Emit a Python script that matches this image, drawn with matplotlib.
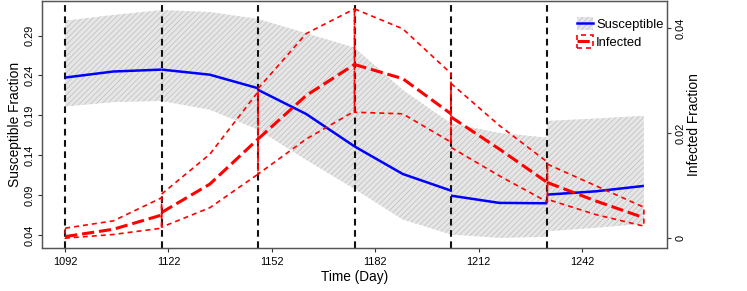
import matplotlib
matplotlib.use("Agg")
import matplotlib.pyplot as plt
from matplotlib.patches import Patch
from matplotlib.lines import Line2D
from matplotlib.legend_handler import HandlerTuple

plt.rcParams['font.family'] = ['Liberation Sans', 'DejaVu Sans']
plt.rcParams['hatch.linewidth'] = 0.5

# ---- data ----
change_days = [1092, 1120, 1148, 1176, 1204, 1232]
x_ticks = [1092, 1122, 1152, 1182, 1212, 1242]
s_ticks = [0.04, 0.09, 0.14, 0.19, 0.24, 0.29]
s_tick_labels = ["0.04", "0.09", "0.14", "0.19", "0.24", "0.29"]
i_ticks = [0.0, 0.02, 0.04]
i_tick_labels = ["0", "0.02", "0.04"]

window_days = [[1092, 1106, 1120], [1120, 1134, 1148], [1148, 1162, 1176],
               [1176, 1190, 1204], [1204, 1218, 1232], [1232, 1246, 1260]]
sus_mean = [[0.2374, 0.245, 0.2474], [0.2474, 0.241, 0.224], [0.222, 0.1916, 0.151],
            [0.151, 0.1164, 0.0955], [0.0892, 0.0801, 0.0796], [0.0905, 0.0946, 0.1014]]
sus_upper = [[0.3088, 0.316, 0.3222], [0.3222, 0.3197, 0.311], [0.311, 0.293, 0.275],
             [0.275, 0.222, 0.180], [0.180, 0.168, 0.162], [0.183, 0.186, 0.1894]]
sus_lower = [[0.201, 0.2066, 0.208], [0.208, 0.197, 0.172], [0.172, 0.134, 0.0975],
             [0.0975, 0.0592, 0.0404], [0.0404, 0.0362, 0.0375], [0.0445, 0.0488, 0.0538]]
inf_mean = [[0.0003, 0.0017, 0.0044], [0.0049, 0.0103, 0.0189], [0.0189, 0.0272, 0.0331],
            [0.0331, 0.0304, 0.0237], [0.0231, 0.017, 0.0106], [0.0106, 0.0071, 0.0039]]
inf_upper = [[0.0019, 0.0033, 0.0077], [0.0084, 0.016, 0.0279], [0.0285, 0.039, 0.0437],
             [0.0437, 0.0399, 0.0314], [0.0295, 0.0215, 0.0145], [0.0141, 0.010, 0.0059]]
inf_lower = [[0.0, 0.0007, 0.0019], [0.0021, 0.0058, 0.0122], [0.0122, 0.0189, 0.0242],
             [0.024, 0.0237, 0.0183], [0.0173, 0.0119, 0.0069], [0.0074, 0.0045, 0.0023]]

# ---- figure ----
W, H = 747, 291
fig = plt.figure(figsize=(W / 100, H / 100), dpi=100)
L, R, T, B = 42, 667, 1, 247.5
ax = fig.add_axes([L / W, 1 - B / H, (R - L) / W, (B - T) / H])
ax2 = ax.twinx()

band_face = '#e6e6e6'
band_hatch = '#bdbdbd'
for d, lo, up in zip(window_days, sus_lower, sus_upper):
    ax.fill_between(d, lo, up, facecolor=band_face, edgecolor=band_hatch,
                    hatch='//////', linewidth=0, zorder=1)

for cd in change_days:
    ax.axvline(cd, color='#111111', lw=1.5, dashes=(3.2, 2.2), zorder=2)

for d, m in zip(window_days, sus_mean):
    ax.plot(d, m, color='#0000ff', lw=1.8, solid_capstyle='butt', zorder=3)

for d, lo, up, m in zip(window_days, inf_lower, inf_upper, inf_mean):
    xs = list(d) + list(d[::-1]) + [d[0]]
    ys = list(up) + list(lo[::-1]) + [up[0]]
    ax2.plot(xs, ys, color='#ff0000', lw=1.2, dashes=(3.0, 2.4), zorder=3)
    ax2.plot(d, m, color='#ff0000', lw=2.2, dashes=(4.0, 1.6), zorder=4)

ax.set_xlim(1085.28, 1266.72)
ax.set_ylim(0.0241, 0.3335)
ax2.set_ylim(-0.00178, 0.0452)

ax.set_xticks(x_ticks)
ax.set_xticklabels([str(v) for v in x_ticks], fontsize=7.9)
ax.set_yticks(s_ticks)
ax.set_yticklabels(s_tick_labels, fontsize=7.9, rotation=90, va='center')
ax2.set_yticks(i_ticks)
ax2.set_yticklabels(i_tick_labels, fontsize=7.9, rotation=90, va='center')

ax.tick_params(axis='x', length=3, width=0.8, pad=3.5, color='#333333')
ax.tick_params(axis='y', length=3, width=0.8, pad=2.5, color='#333333')
ax2.tick_params(axis='y', length=3, width=0.8, pad=3, color='#333333')

for a in (ax, ax2):
    for s in a.spines.values():
        s.set_color('#555555')
        s.set_linewidth(0.9)

ax.set_xlabel('Time (Day)', fontsize=9.8, va='top')
ax.xaxis.set_label_coords(0.5, -(270 - B) / (B - T))
ax.set_ylabel('Susceptible Fraction', fontsize=9.9, va='center')
ax.yaxis.set_label_coords((15.5 - L) / (R - L), 0.5)
ax2.set_ylabel('Infected Fraction', fontsize=9.9, va='center', rotation=90)
ax2.yaxis.set_label_coords((694 - L) / (R - L), 0.5)

sus_handle = (Patch(facecolor=band_face, edgecolor=band_hatch, hatch='//////', lw=0),
              Line2D([], [], color='#0000ff', lw=1.8))
inf_handle = (Patch(facecolor='none', edgecolor='#ff0000', lw=1.2, linestyle=(0, (3.0, 2.4))),
              Line2D([], [], color='#ff0000', lw=2.2, dashes=(4.0, 1.6)))
leg = ax2.legend([sus_handle, inf_handle], ['Susceptible', 'Infected'],
                 handler_map={tuple: HandlerTuple(ndivide=1, pad=0)},
                 loc='upper left', bbox_to_anchor=((577 - L) / (R - L), (B - 17) / (B - T)),
                 frameon=False, fontsize=9.4, borderpad=0, borderaxespad=0,
                 handlelength=1.25, handleheight=1.2, handletextpad=0.22,
                 labelspacing=0.3)

fig.savefig('out.png', dpi=100)
